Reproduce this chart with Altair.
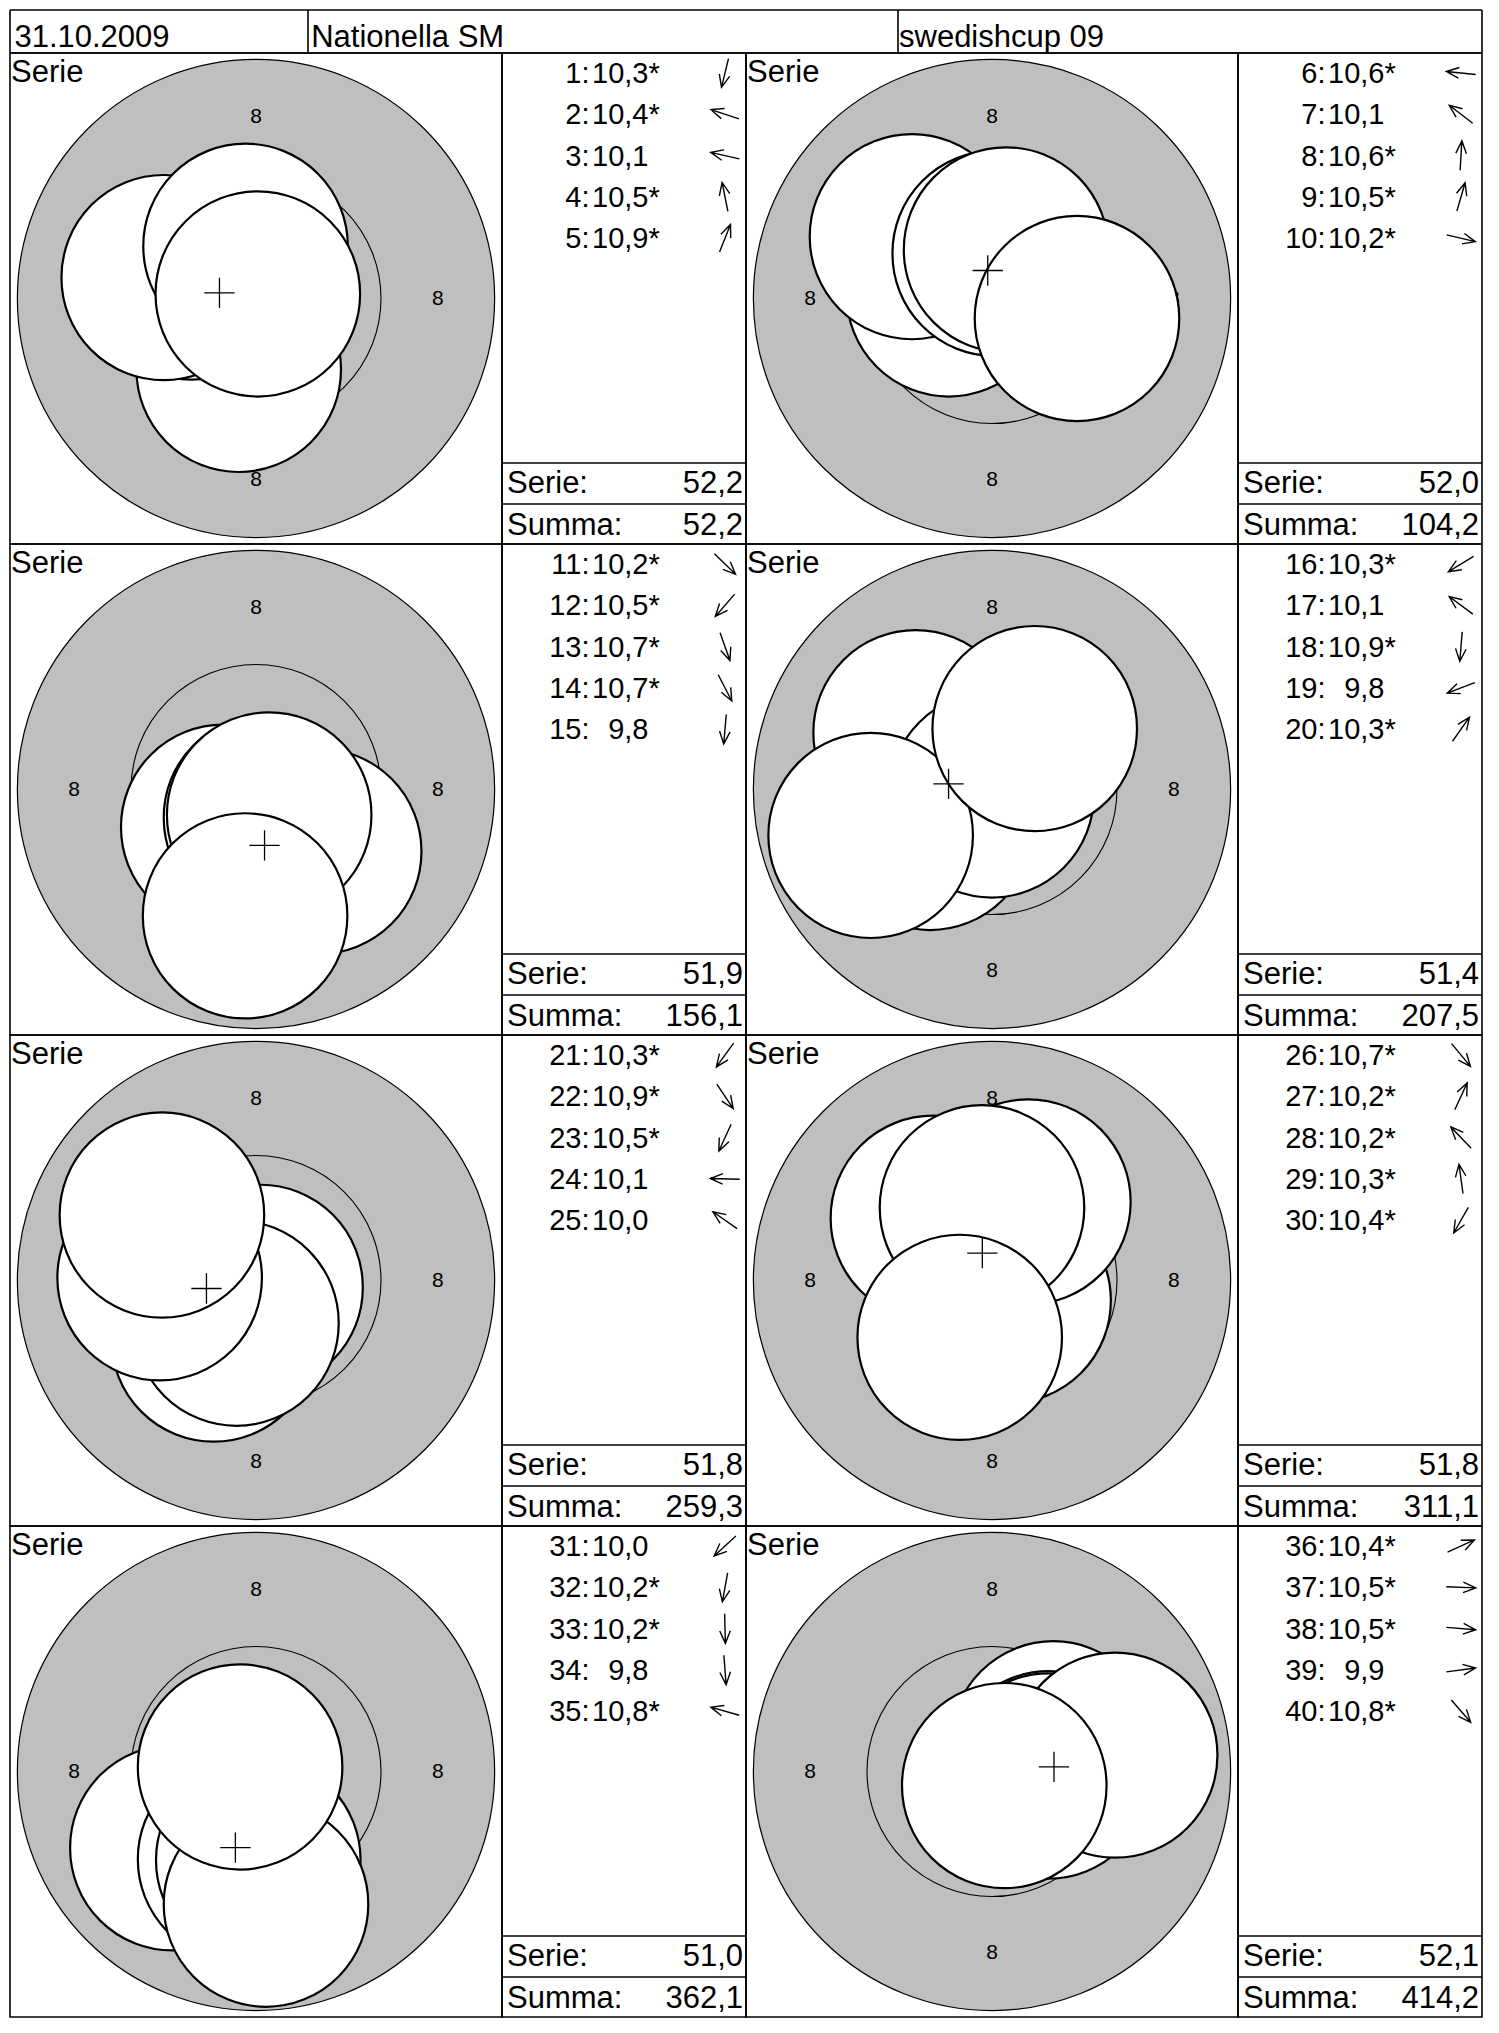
import math
import altair as alt
import pandas as pd

# ---------------- data ----------------
DATE = "31.10.2009"
EVENT = "Nationella SM"
COMPETITION = "swedishcup 09"

SCORES = [10.3, 10.4, 10.1, 10.5, 10.9,
          10.6, 10.1, 10.6, 10.5, 10.2,
          10.2, 10.5, 10.7, 10.7, 9.8,
          10.3, 10.1, 10.9, 9.8, 10.3,
          10.3, 10.9, 10.5, 10.1, 10.0,
          10.7, 10.2, 10.2, 10.3, 10.4,
          10.0, 10.2, 10.2, 9.8, 10.8,
          10.4, 10.5, 10.5, 9.9, 10.8]

# shot centres in mm from the target centre (x to the right, y upwards)
SHOT_X = [-0.38, -1.42, -2.03, -0.23, 0.04,
          -0.95, -1.76, 0.06, 0.31, 1.87,
          1.39, -0.72, 0.22, 0.29, -0.24,
          -1.36, -1.68, -0.01, -2.67, 0.94,
          -0.93, 0.10, -0.43, -2.12, -2.07,
          0.365, 0.80, -1.30, -0.22, -0.71,
          -1.84, -0.35, 0.05, 0.22, -0.35,
          1.35, 1.25, 1.24, 2.71, 0.27]
SHOT_Y = [-1.56, 0.47, 0.46, 1.15, 0.10,
          0.10, 1.36, 0.99, 1.07, -0.44,
          -1.36, -0.83, -0.62, -0.56, -2.78,
          -0.835, 1.25, -0.12, -1.01, 1.34,
          -1.29, -0.15, -0.94, 0.06, 1.44,
          -0.44, 1.73, 1.37, 1.60, -1.25,
          -1.68, -1.93, -1.95, -2.92, 0.10,
          0.61, -0.05, -0.10, 0.36, -0.31]

RING_LABEL = "8"

# ---------------- geometry / style ----------------
FONT = "Liberation Sans"
HEADER_H = 43
ROW_H = 491
TARGET_W = 492
TEXT_W = 244
LIST_H = 410
SERIE_H = 41
HEAD_DIV = [298, 888]          # header dividers (px from the left)
HEAD_X = [4.4, 3.2, 1.0]
PX_PER_MM = 45.45
R_OUTER = 5.25      # mm
R_TEN = 2.75        # mm
R_SHOT = 2.25       # mm
LABEL_R = 4.0       # mm
GREY = "#bfbfbf"
LINE_SP = 41.3
FIRST = 30.0 / LINE_SP
LW = 1.6
CROSS = "M-1,0L1,0M0,-1L0,1"
ARROW = "M-1,0L1,0M0.15,-0.36L1,0L0.15,0.36"
ONE = pd.DataFrame({"k": [0]})


def fmt(v):
    return f"{v:.1f}".replace(".", ",")


def diam_px(r_mm):
    return 2 * r_mm * PX_PER_MM


shots = pd.DataFrame({"n": range(1, 41), "score": SCORES, "x": SHOT_X, "y": SHOT_Y})
shots["panel"] = (shots["n"] - 1) // 5
shots["num"] = shots["n"].astype(str) + ":"
shots["stxt"] = shots["score"].map(fmt)
shots["star"] = shots["score"].map(lambda s: "*" if round(s * 10) >= 102 else "")
shots["ang"] = [(-math.degrees(math.atan2(yy, xx))) % 360 for xx, yy in zip(SHOT_X, SHOT_Y)]

serie_tot = [round(sum(SCORES[i * 5:(i + 1) * 5]), 1) for i in range(8)]
summa_tot = []
acc = 0.0
for v in serie_tot:
    acc = round(acc + v, 1)
    summa_tot.append(acc)


def target_chart(p):
    sub = shots[shots.panel == p]
    xr = TARGET_W / 2 / PX_PER_MM
    yr = ROW_H / 2 / PX_PER_MM
    xs = alt.Scale(domain=[-xr, xr], nice=False, zero=False)
    ys = alt.Scale(domain=[-yr, yr], nice=False, zero=False)
    X = alt.X("x:Q", scale=xs, axis=None)
    Y = alt.Y("y:Q", scale=ys, axis=None)
    centre = pd.DataFrame({"x": [0.0], "y": [0.0]})
    labs = pd.DataFrame({"x": [0.0, 0.0, -LABEL_R, LABEL_R],
                         "y": [LABEL_R, -LABEL_R, 0.0, 0.0],
                         "t": [RING_LABEL] * 4})
    mean = pd.DataFrame({"x": [sub.x.mean()], "y": [sub.y.mean()]})

    disc = alt.Chart(centre).mark_circle(fill=GREY, stroke="black", strokeWidth=1.2, opacity=1).encode(
        x=X, y=Y, size=alt.value(diam_px(R_OUTER) ** 2))
    labels = alt.Chart(labs).mark_text(font=FONT, fontSize=21, baseline="middle", align="center",
                                       color="black").encode(x=X, y=Y, text="t:N")
    ring = alt.Chart(centre).mark_point(shape="circle", filled=False, stroke="black", strokeWidth=1.1,
                                        opacity=1).encode(x=X, y=Y, size=alt.value(diam_px(R_TEN) ** 2))
    holes = alt.Chart(sub).mark_circle(fill="white", stroke="black", strokeWidth=2.2, opacity=1).encode(
        x=X, y=Y, size=alt.value(diam_px(R_SHOT) ** 2), order=alt.Order("n:Q"))
    cross = alt.Chart(mean).mark_point(shape=CROSS, filled=False, stroke="black", strokeWidth=1.3,
                                       opacity=1).encode(x=X, y=Y, size=alt.value(30.3 ** 2))
    title = alt.Chart(ONE).mark_text(text="Serie", font=FONT, fontSize=31, align="left",
                                     baseline="alphabetic", color="black").encode(
        x=alt.value(1), y=alt.value(28.5))
    return alt.layer(disc, labels, ring, holes, cross, title).properties(width=TARGET_W, height=ROW_H)


def text_column(p):
    sub = shots[shots.panel == p].copy()
    sub["i"] = list(range(len(sub)))
    ys = alt.Scale(domain=[-FIRST, LIST_H / LINE_SP - FIRST], range=[0, LIST_H], nice=False, zero=False)
    Y = alt.Y("i:Q", scale=ys, axis=None)
    base = alt.Chart(sub)
    tk = dict(font=FONT, fontSize=29, baseline="alphabetic", color="black")
    num = base.mark_text(align="right", **tk).encode(x=alt.value(87.5), y=Y, text="num:N")
    sc = base.mark_text(align="right", **tk).encode(x=alt.value(146.5), y=Y, text="stxt:N")
    st = base.mark_text(align="left", **tk).encode(x=alt.value(146.5), y=Y, text="star:N")
    arr = base.mark_point(shape=ARROW, filled=False, stroke="black", strokeWidth=1.4, opacity=1,
                          yOffset=-10).encode(x=alt.value(223), y=Y,
                                              angle=alt.Angle("ang:Q", scale=None),
                                              size=alt.value(29.5 ** 2))
    sep1 = alt.Chart(ONE).mark_rule(color="black", strokeWidth=LW).encode(
        x=alt.value(0), x2=alt.value(TEXT_W), y=alt.value(LIST_H))
    sep2 = alt.Chart(ONE).mark_rule(color="black", strokeWidth=LW).encode(
        x=alt.value(0), x2=alt.value(TEXT_W), y=alt.value(LIST_H + SERIE_H))
    box = pd.DataFrame({"label": ["Serie:", "Summa:"],
                        "value": [fmt(serie_tot[p]), fmt(summa_tot[p])],
                        "by": [LIST_H + 30.3, LIST_H + SERIE_H + 31.0]})
    bk = dict(font=FONT, fontSize=31, baseline="alphabetic", color="black")
    bl = alt.Chart(box).mark_text(align="left", **bk).encode(
        x=alt.value(5), y=alt.Y("by:Q", scale=None), text="label:N")
    bv = alt.Chart(box).mark_text(align="right", **bk).encode(
        x=alt.value(TEXT_W - 3), y=alt.Y("by:Q", scale=None), text="value:N")
    return alt.layer(num, sc, st, arr, sep1, sep2, bl, bv).properties(width=TEXT_W, height=ROW_H)


def header_cell(x0, w, last=False):
    """Header strip piece covering [x0, x0+w) of the full width."""
    layers = []
    rk = dict(color="black", strokeWidth=LW)
    layers.append(alt.Chart(ONE).mark_rule(**rk).encode(x=alt.value(0), x2=alt.value(w), y=alt.value(0)))
    layers.append(alt.Chart(ONE).mark_rule(**rk).encode(x=alt.value(0), x2=alt.value(w),
                                                       y=alt.value(HEADER_H)))
    verts = [0] + HEAD_DIV + ([x0 + w] if last else [])
    for vx in verts:
        if x0 <= vx <= x0 + w:
            layers.append(alt.Chart(ONE).mark_rule(**rk).encode(
                x=alt.value(vx - x0), y=alt.value(0), y2=alt.value(HEADER_H)))
    starts = [0] + HEAD_DIV
    for txt, sx, dx in zip([DATE, EVENT, COMPETITION], starts, HEAD_X):
        if x0 <= sx < x0 + w:
            df = pd.DataFrame({"t": [txt]})
            layers.append(alt.Chart(df).mark_text(font=FONT, fontSize=31, align="left",
                                                  baseline="alphabetic", color="black").encode(
                x=alt.value(sx - x0 + dx), y=alt.value(36.5), text="t:N"))
    return alt.layer(*layers).properties(width=w, height=HEADER_H,
                                         view=alt.ViewBackground(stroke="transparent"))


col_w = [TARGET_W, TEXT_W, TARGET_W, TEXT_W]
col_x = [0, TARGET_W, TARGET_W + TEXT_W, 2 * TARGET_W + TEXT_W]
cells = [header_cell(x0, w, last=(i == 3)) for i, (x0, w) in enumerate(zip(col_x, col_w))]
for r in range(4):
    for c in range(2):
        p = 2 * r + c
        cells.append(target_chart(p))
        cells.append(text_column(p))

chart = alt.concat(*cells, columns=4, spacing=0, bounds="flush").properties(
    padding=0, background="white"
).configure_view(stroke="black", strokeWidth=LW).configure_concat(spacing=0)

chart.save("out.html", embed_options={"renderer": "svg", "actions": False})
